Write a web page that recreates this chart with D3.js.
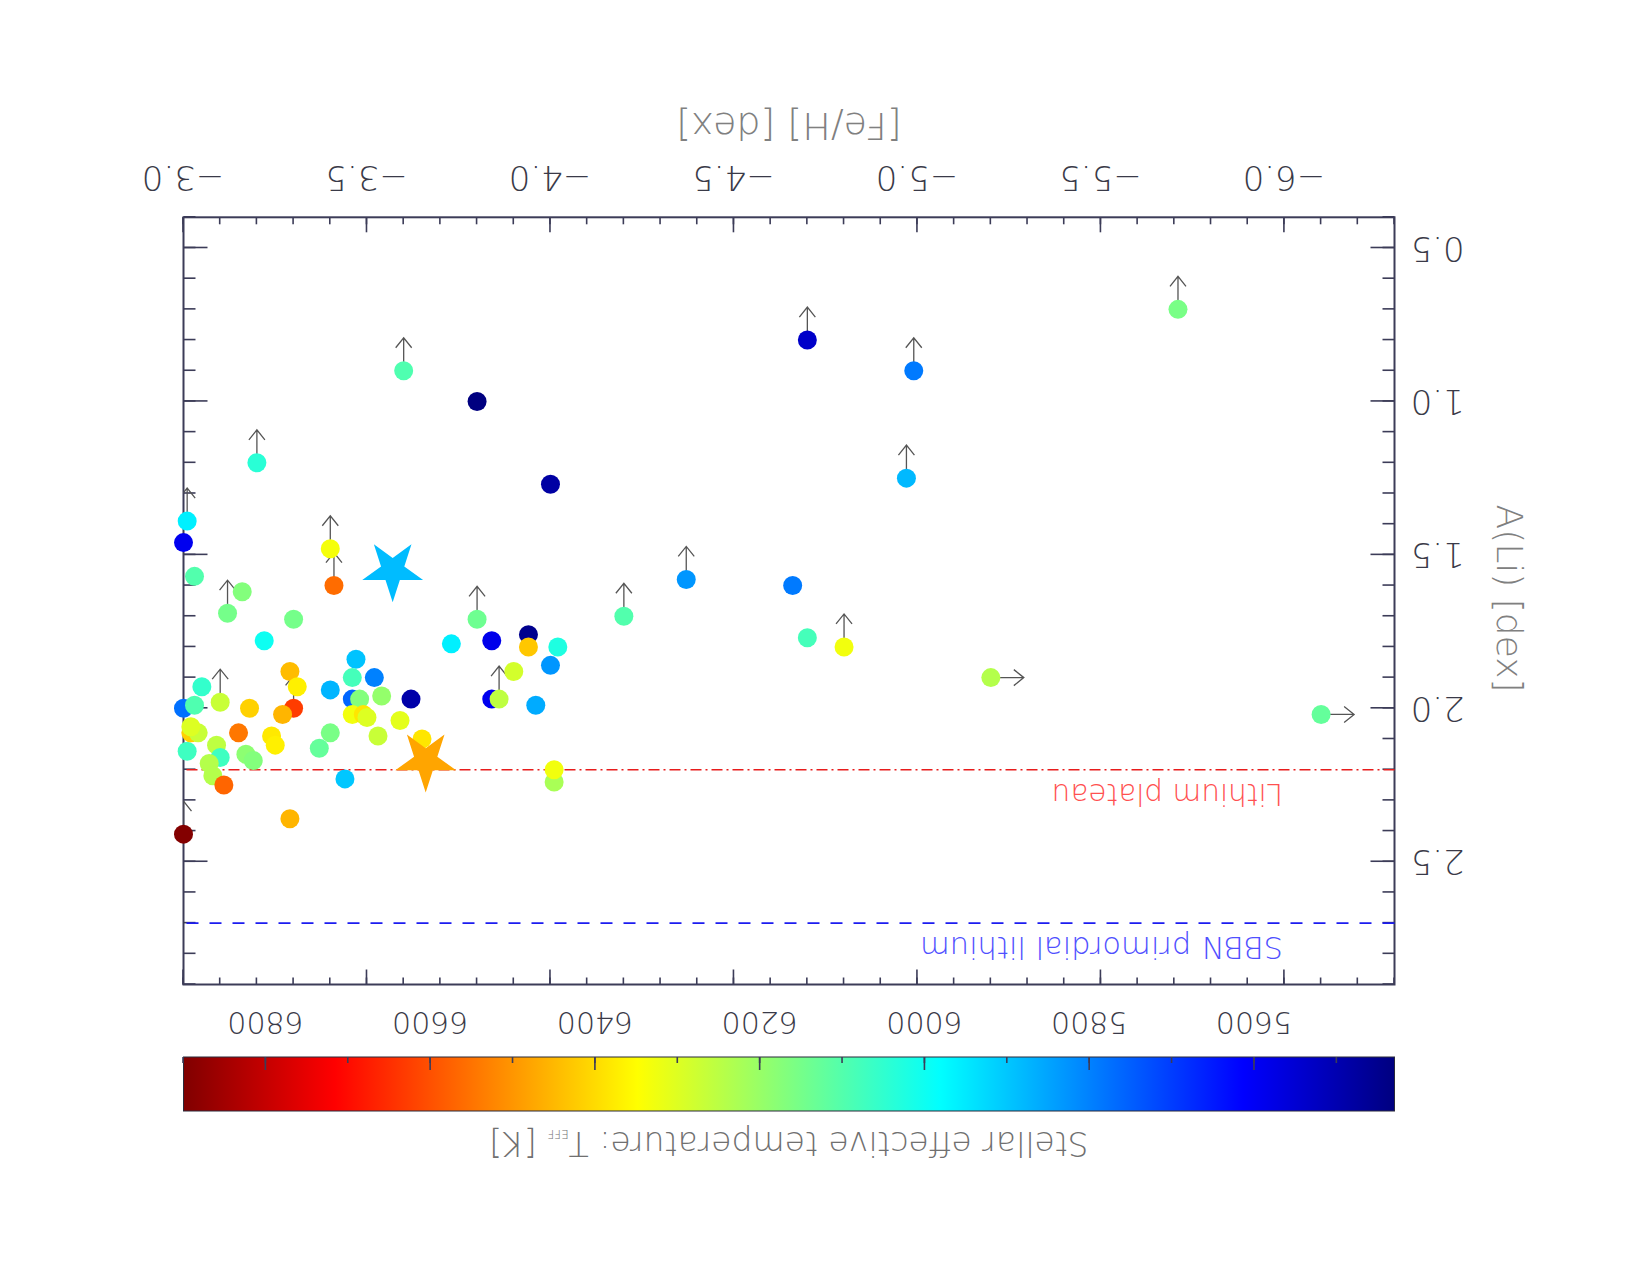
<!DOCTYPE html>
<html>
<head>
<meta charset="utf-8">
<script src="https://cdn.jsdelivr.net/npm/d3@7"></script>
<style>
  body { margin: 0; background: #fff; }
  text { font-family: "DejaVu Sans", sans-serif; font-weight: 200; }
</style>
</head>
<body>
<script>
// star sample: [Fe/H], A(Li), Teff and which value is a limit ("Li", "Fe" or "")
var fehValues = [-3.20, -3.01, -3.00, -3.03, -3.12, -3.16, -3.30, -3.22, -3.40, -3.41,
  -4.00, -3.80, -3.73, -3.84, -3.94, -3.94, -4.02, -4.00, -3.90, -3.84,
  -3.86, -3.96, -4.01, -4.01, -4.20, -3.05, -3.10, -3.00, -3.03, -3.18,
  -3.29, -3.31, -3.30, -3.27, -3.40, -3.47, -3.46, -3.52, -3.46, -3.48,
  -3.54, -3.62, -3.46, -3.49, -3.50, -3.59, -3.53, -3.65, -3.40, -3.37,
  -3.15, -3.24, -3.25, -3.17, -3.19, -3.09, -3.10, -3.01, -3.02, -3.04,
  -3.02, -3.07, -3.08, -3.11, -3.44, -3.29, -3.00, -3.60, -3.80, -4.70,
  -4.37, -4.66, -4.70, -4.80, -4.99, -4.97, -5.71, -5.20, -6.10];
var aLiValues = [1.20, 1.39, 1.46, 1.57, 1.69, 1.62, 1.71, 1.78, 1.48, 1.60,
  1.27, 1.71, 1.79, 1.78, 1.76, 1.80, 1.80, 1.86, 1.88, 1.97,
  1.97, 1.99, 2.24, 2.20, 1.70, 1.93, 1.98, 2.00, 1.99, 2.00,
  1.88, 1.93, 2.00, 2.02, 1.94, 1.84, 1.90, 1.90, 1.97, 1.97,
  1.96, 1.97, 2.02, 2.02, 2.03, 2.04, 2.09, 2.10, 2.08, 2.13,
  2.08, 2.09, 2.12, 2.15, 2.17, 2.12, 2.16, 2.14, 2.08, 2.08,
  2.06, 2.18, 2.22, 2.25, 2.23, 2.36, 2.41, 0.90, 1.00, 0.80,
  1.58, 1.60, 1.77, 1.80, 0.90, 1.25, 0.70, 1.90, 2.02];
var teffValues = [6040, 5960, 5590, 6100, 6150, 6170, 6150, 6000, 6335, 6560,
  5480, 6140, 5960, 5585, 5450, 6430, 6025, 5830, 6285, 5590,
  6255, 5860, 6225, 6330, 6100, 6055, 6270, 5775, 6095, 6415,
  6445, 6370, 6630, 6455, 5875, 5895, 6080, 5800, 5760, 6170,
  6195, 5490, 6330, 6385, 6300, 6310, 6270, 6385, 6155, 6125,
  6545, 6380, 6370, 6185, 6170, 6255, 6070, 6070, 6415, 6270,
  6300, 6240, 6240, 6570, 5900, 6455, 6895, 6095, 5430, 5535,
  5830, 5790, 6080, 6330, 5790, 5880, 6155, 6240, 6125];
var limitFlags = ["Li", "Li", "", "", "Li", "", "", "", "Li", "Li",
  "", "Li", "", "", "", "", "", "", "", "",
  "Li", "", "", "", "Li", "", "Li", "", "", "",
  "", "", "Li", "", "", "", "", "", "", "",
  "", "", "", "", "", "", "", "", "", "",
  "", "", "", "", "", "", "", "", "", "",
  "", "", "", "", "", "", "Li", "Li", "", "Li",
  "Li", "", "", "Li", "Li", "Li", "Li", "Fe", "Fe"];

// the two highlighted stars
var starFeh = [-3.57, -3.66];
var starALi = [1.55, 2.17];
var starTeff = [5885, 6478];

// reference lines
var plateauLi = 2.2;
var sbbnLi = 2.7;

// tick labels
var fehMajor = [-6.0, -5.5, -5.0, -4.5, -4.0, -3.5, -3.0];
var aLiMajor = [0.5, 1.0, 1.5, 2.0, 2.5];
var teffMajor = [5600, 5800, 6000, 6200, 6400, 6600, 6800];

var width = 1650;
var height = 1275;
var margin = { left: 255.5, right: 183.5, top: 290.5, bottom: 217.3 };
var axisColor = "#3c3c58";
var labelColor = "#3a3a48";

var xScale = d3.scaleLinear().domain([-6.3, -3.0]).range([margin.left, width - margin.right]);
var yScale = d3.scaleLinear().domain([0.4, 2.9]).range([height - margin.bottom, margin.top]);

// jet colour map, cool end = low temperature
var tMin = 5430, tMax = 6900;
var jetStops = [0, 0.125, 0.375, 0.625, 0.875, 1];
var jetColors = ["#000080", "#0000ff", "#00ffff", "#ffff00", "#ff0000", "#800000"];
var color = d3.scaleLinear()
  .domain(jetStops.map(function (p) { return tMin + p * (tMax - tMin); }))
  .range(jetColors);
var cScale = d3.scaleLinear().domain([tMin, tMax]).range([margin.left, width - margin.right]);

var svg = d3.select("body").append("svg")
  .attr("width", width)
  .attr("height", height);

// whole figure is shown upside down
var g = svg.append("g").attr("transform", "rotate(180 " + width / 2 + " " + height / 2 + ")");

var x0 = xScale.range()[0], x1 = xScale.range()[1];
var y0 = yScale.range()[0], y1 = yScale.range()[1];

function styleAxis(sel, size) {
  sel.select(".domain").remove();
  sel.selectAll(".tick line").attr("stroke", axisColor).attr("stroke-width", 1.6);
  sel.selectAll(".tick text").attr("fill", labelColor)
    .style("font-size", size + "px");
}

// frame ticks
var minorX = xScale.ticks(33), minorY = yScale.ticks(25);
g.append("g").attr("transform", "translate(0," + y0 + ")")
  .call(d3.axisBottom(xScale).tickValues(minorX).tickSize(-7).tickFormat(""))
  .call(styleAxis, 34);
g.append("g").attr("transform", "translate(0," + y0 + ")")
  .call(d3.axisBottom(xScale).tickValues(fehMajor).tickSize(-15).tickPadding(27)
    .tickFormat(d3.format(".1f")))
  .call(styleAxis, 34);
g.append("g").attr("transform", "translate(0," + y1 + ")")
  .call(d3.axisTop(xScale).tickValues(minorX).tickSize(-7).tickFormat(""))
  .call(styleAxis, 34);
g.append("g").attr("transform", "translate(0," + y1 + ")")
  .call(d3.axisTop(xScale).tickValues(fehMajor).tickSize(-15).tickFormat(""))
  .call(styleAxis, 34);
g.append("g").attr("transform", "translate(" + x0 + ",0)")
  .call(d3.axisLeft(yScale).tickValues(minorY).tickSize(-12).tickFormat(""))
  .call(styleAxis, 34);
g.append("g").attr("transform", "translate(" + x0 + ",0)")
  .call(d3.axisLeft(yScale).tickValues(aLiMajor).tickSize(-24).tickPadding(16)
    .tickFormat(d3.format(".1f")))
  .call(styleAxis, 34);
g.append("g").attr("transform", "translate(" + x1 + ",0)")
  .call(d3.axisRight(yScale).tickValues(minorY).tickSize(-12).tickFormat(""))
  .call(styleAxis, 34);
g.append("g").attr("transform", "translate(" + x1 + ",0)")
  .call(d3.axisRight(yScale).tickValues(aLiMajor).tickSize(-24).tickFormat(""))
  .call(styleAxis, 34);

g.append("rect")
  .attr("x", x0).attr("y", y1)
  .attr("width", x1 - x0).attr("height", y0 - y1)
  .attr("fill", "none").attr("stroke", axisColor).attr("stroke-width", 2);

// lithium plateau and SBBN value
g.append("line")
  .attr("x1", x0).attr("x2", x1)
  .attr("y1", yScale(plateauLi)).attr("y2", yScale(plateauLi))
  .attr("stroke", "#e81c1c").attr("stroke-width", 1.6)
  .attr("stroke-dasharray", "11,4,2,4");
g.append("line")
  .attr("x1", x0).attr("x2", x1)
  .attr("y1", yScale(sbbnLi)).attr("y2", yScale(sbbnLi))
  .attr("stroke", "#1c1cf0").attr("stroke-width", 1.6)
  .attr("stroke-dasharray", "12,11");

g.append("text")
  .attr("x", 367).attr("y", 491)
  .attr("fill", "#ff5050")
  .style("font-size", "29.5px")
  .text("Lithium plateau");
g.append("text")
  .attr("x", 367).attr("y", 338)
  .attr("fill", "#5050ff")
  .style("font-size", "30.5px")
  .text("SBBN primordial lithium");

// limit arrows (clipped to the frame)
svg.append("defs").append("clipPath").attr("id", "plotclip")
  .append("rect").attr("x", x0).attr("y", y1)
  .attr("width", x1 - x0).attr("height", y0 - y1);

var idx = d3.range(fehValues.length);
g.append("g").attr("clip-path", "url(#plotclip)")
  .selectAll("path")
  .data(idx.filter(function (i) { return limitFlags[i] !== ""; }))
  .enter()
  .append("path")
  .attr("fill", "none")
  .attr("stroke", "#555")
  .attr("stroke-width", 1.3)
  .attr("d", function (i) {
    var cx = xScale(fehValues[i]), cy = yScale(aLiValues[i]);
    if (limitFlags[i] === "Li") {
      return "M" + cx + "," + cy + "V" + (cy + 33) +
        "M" + (cx - 8) + "," + (cy + 23) + "L" + cx + "," + (cy + 33) + "L" + (cx + 8) + "," + (cy + 23);
    }
    return "M" + cx + "," + cy + "H" + (cx - 33) +
      "M" + (cx - 23) + "," + (cy - 8) + "L" + (cx - 33) + "," + cy + "L" + (cx - 23) + "," + (cy + 8);
  });

g.append("g").selectAll("circle")
  .data(idx)
  .enter()
  .append("circle")
  .attr("cx", function (i) { return xScale(fehValues[i]); })
  .attr("cy", function (i) { return yScale(aLiValues[i]); })
  .attr("r", 9.5)
  .attr("fill", function (i) { return color(teffValues[i]); });

var star = d3.symbol().type(d3.symbolStar).size(32 * 32 / 0.8908130915292852);
g.append("g").selectAll("path")
  .data(d3.range(starFeh.length))
  .enter()
  .append("path")
  .attr("d", star)
  .attr("transform", function (i) {
    return "translate(" + xScale(starFeh[i]) + "," + yScale(starALi[i]) + ")";
  })
  .attr("fill", function (i) { return color(starTeff[i]); });

// axis titles
g.append("text")
  .attr("x", (x0 + x1) / 2).attr("y", 1162)
  .attr("text-anchor", "middle")
  .attr("fill", "#808080")
  .style("font-size", "38px")
  .text("[Fe/H] [dex]");
g.append("text")
  .attr("transform", "translate(153," + (height - 598.5) + ") rotate(-90)")
  .attr("text-anchor", "middle")
  .attr("fill", "#808080")
  .style("font-size", "36px")
  .text("A(Li) [dex]");

// colour bar
var grad = svg.select("defs").append("linearGradient")
  .attr("id", "jetgrad")
  .attr("x1", "0%").attr("x2", "100%").attr("y1", "0%").attr("y2", "0%");
grad.selectAll("stop")
  .data(jetStops)
  .enter()
  .append("stop")
  .attr("offset", function (p) { return (p * 100) + "%"; })
  .attr("stop-color", function (p) { return color(tMin + p * (tMax - tMin)); });

var barTop = 164, barBottom = 218;
g.append("rect")
  .attr("x", cScale.range()[0]).attr("y", barTop)
  .attr("width", cScale.range()[1] - cScale.range()[0])
  .attr("height", barBottom - barTop)
  .attr("fill", "url(#jetgrad)")
  .attr("stroke", "#2a2a3a").attr("stroke-width", 1);

g.append("g").attr("transform", "translate(0," + barBottom + ")")
  .call(d3.axisBottom(cScale).tickValues(cScale.ticks(15)).tickSize(-6).tickFormat(""))
  .call(styleAxis, 30);
g.append("g").attr("transform", "translate(0," + barBottom + ")")
  .call(d3.axisBottom(cScale).tickValues(teffMajor).tickSize(-13).tickPadding(24)
    .tickFormat(d3.format("d")))
  .call(styleAxis, 30);
g.selectAll(".tick line").attr("stroke", axisColor);

var cTitle = g.append("text")
  .attr("x", (x0 + x1) / 2).attr("y", 143)
  .attr("text-anchor", "middle")
  .attr("fill", "#707070")
  .style("font-size", "33px");
cTitle.append("tspan").text("Stellar effective temperature: T");
cTitle.append("tspan").style("font-size", "12px").attr("dy", 2).text("EFF");
cTitle.append("tspan").attr("dy", -2).text(" [K]");
</script>
</body>
</html>
